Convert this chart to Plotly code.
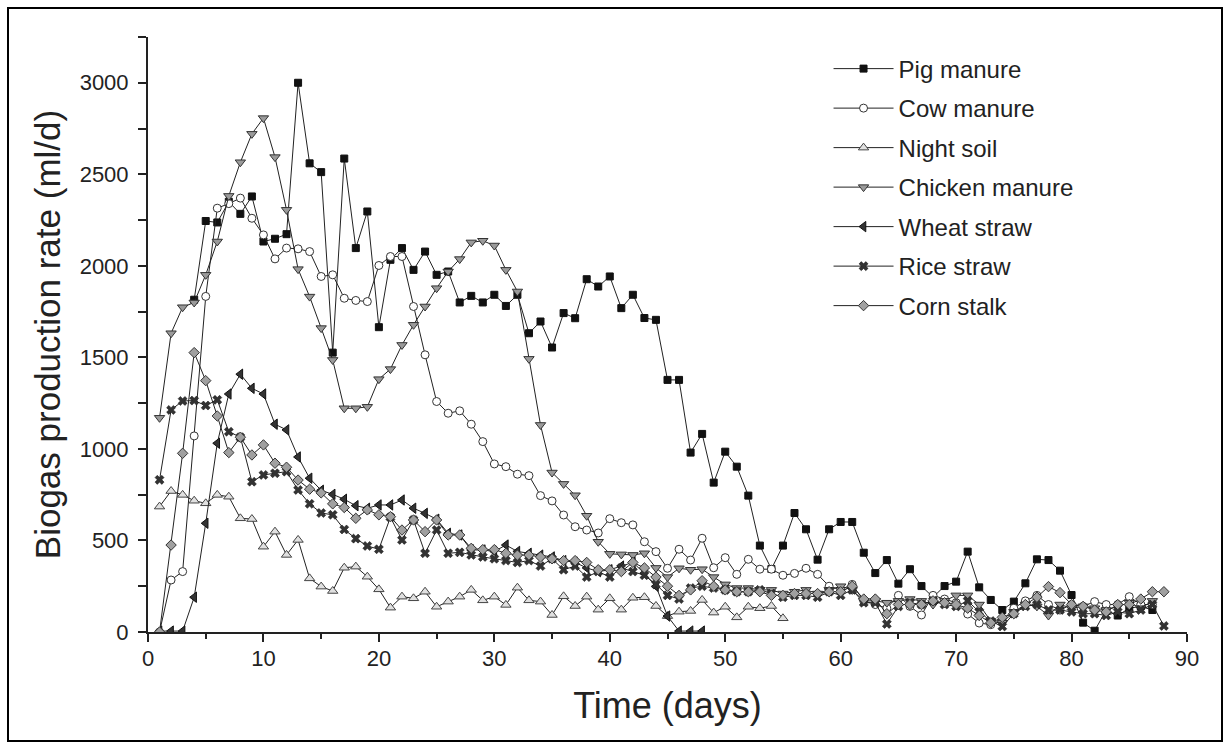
import plotly.graph_objects as go

pig_days = list(range(4, 88))
pig = [1815, 2245, 2237, 2350, 2284, 2379, 2133, 2148, 2173, 3000,
       2560, 2512, 1526, 2586, 2097, 2297, 1665, 2033, 2097, 1978,
       2078, 1951, 1969, 1800, 1836, 1800, 1842, 1781, 1842, 1632,
       1696, 1554, 1742, 1714, 1927, 1887, 1942, 1769, 1842, 1715,
       1705, 1377, 1377, 980, 1082, 816, 985, 903, 745, 472,
       344, 472, 650, 561, 395, 561, 601, 601, 433, 322,
       393, 264, 343, 251, 190, 251, 275, 439, 244, 175,
       120, 166, 266, 397, 393, 335, 202, 51, 7, 120,
       90, 130, 140, 120]

cow_days = list(range(1, 88))
cow = [0, 284, 330, 1071, 1833, 2315, 2340, 2370, 2260, 2169,
       2038, 2097, 2093, 2078, 1942, 1951, 1823, 1811, 1805, 2002,
       2051, 2051, 1778, 1514, 1259, 1195, 1208, 1135, 1040, 918,
       903, 862, 854, 745, 716, 639, 575, 557, 541, 619,
       597, 585, 493, 439, 348, 452, 393, 512, 351, 406,
       315, 397, 343, 343, 310, 320, 348, 315, 250, 230,
       260, 170, 150, 130, 200, 140, 93, 200, 180, 160,
       98, 49, 40, 60, 130, 170, 200, 150, 120, 150,
       140, 166, 150, 150, 193, 150, 150]

night_days = list(range(1, 56))
night = [685, 770, 749, 717, 703, 749, 739, 621, 617, 466,
         548, 421, 503, 293, 248, 224, 351, 357, 302, 233,
         133, 193, 184, 220, 138, 166, 193, 230, 173, 193,
         148, 242, 173, 166, 93, 195, 142, 193, 122, 184,
         122, 187, 190, 142, 87, 111, 115, 175, 106, 138,
         80, 138, 130, 142, 75]

chicken_days = list(range(1, 88))
chicken = [1170, 1632, 1774, 1800, 1951, 2133, 2382, 2566, 2721, 2807,
           2594, 2306, 1982, 1832, 1660, 1486, 1222, 1222, 1230, 1381,
           1436, 1568, 1678, 1778, 1878, 1969, 2037, 2128, 2137, 2111,
           1978, 1860, 1492, 1131, 871, 809, 747, 635, 493, 427,
           424, 421, 430, 350, 300, 348, 340, 343, 300, 260,
           240, 240, 230, 230, 210, 220, 230, 210, 230, 250,
           230, 170, 170, 160, 170, 180, 170, 150, 170, 200,
           200, 150, 60, 50, 110, 150, 140, 90, 150, 130,
           140, 130, 120, 140, 160, 130, 170]

wheat_days = list(range(1, 49))
wheat = [5, 5, 5, 190, 594, 1031, 1300, 1408, 1331, 1300,
         1135, 1104, 956, 840, 774, 752, 725, 690, 676, 694,
         694, 721, 676, 648, 616, 539, 530, 448, 448, 440,
         475, 440, 430, 420, 410, 390, 380, 350, 330, 340,
         360, 380, 320, 250, 87, 5, 5, 5]

rice_days = list(range(1, 89))
rice = [831, 1213, 1262, 1264, 1237, 1268, 1094, 1064, 821, 858,
        867, 876, 776, 700, 650, 640, 560, 510, 470, 452,
        627, 503, 612, 430, 557, 430, 435, 421, 410, 400,
        390, 380, 390, 360, 400, 340, 360, 300, 330, 300,
        350, 330, 310, 260, 200, 180, 240, 250, 240, 230,
        220, 220, 230, 210, 190, 200, 200, 190, 220, 200,
        230, 160, 160, 44, 140, 160, 150, 170, 150, 140,
        170, 110, 60, 30, 100, 140, 150, 120, 120, 110,
        100, 100, 90, 110, 100, 120, 150, 33]

corn_days = list(range(1, 89))
corn = [0, 475, 976, 1526, 1373, 1180, 980, 1064, 967, 1022,
        922, 900, 830, 780, 760, 700, 680, 621, 667, 640,
        630, 557, 612, 548, 612, 530, 530, 457, 450, 450,
        430, 420, 420, 410, 400, 390, 390, 380, 340, 340,
        330, 380, 350, 300, 250, 200, 230, 280, 250, 230,
        220, 220, 220, 200, 200, 210, 210, 210, 220, 220,
        250, 180, 180, 100, 150, 150, 150, 170, 160, 150,
        130, 90, 50, 80, 100, 150, 190, 248, 215, 150,
        140, 120, 110, 150, 150, 180, 220, 220]

x_ticks = [0, 10, 20, 30, 40, 50, 60, 70, 80, 90]
y_ticks = [0, 500, 1000, 1500, 2000, 2500, 3000]

series = [
    ("Pig manure", pig_days, pig, dict(symbol="square", size=7, color="#111111", line=dict(color="#111111", width=1))),
    ("Cow manure", cow_days, cow, dict(symbol="circle", size=8, color="white", line=dict(color="#333333", width=1))),
    ("Night soil", night_days, night, dict(symbol="triangle-up", size=9, color="#e0e0e0", line=dict(color="#444444", width=1))),
    ("Chicken manure", chicken_days, chicken, dict(symbol="triangle-down", size=9, color="#9a9a9a", line=dict(color="#333333", width=1))),
    ("Wheat straw", wheat_days, wheat, dict(symbol="triangle-left", size=9, color="#333333", line=dict(color="#111111", width=1))),
    ("Rice straw", rice_days, rice, dict(symbol="x", size=8, color="#333333", line=dict(color="#111111", width=0.5))),
    ("Corn stalk", corn_days, corn, dict(symbol="diamond", size=8, color="#a0a0a0", line=dict(color="#333333", width=1))),
]

fig = go.Figure()
for i, (name, xs, ys, mk) in enumerate(series):
    fig.add_trace(go.Scatter(
        x=xs, y=ys, name=name, mode="lines+markers",
        line=dict(color="#222222", width=1),
        marker=mk, legendgroup=f"g{i}",
    ))

fig.update_layout(
    width=1231, height=749,
    margin=dict(l=148, r=44, t=37, b=117),
    paper_bgcolor="white", plot_bgcolor="white",
    font=dict(family="Liberation Sans, Arial, sans-serif", color="#222222"),
    showlegend=True,
    legend=dict(x=0.655, y=0.984, xanchor="left", yanchor="top",
                font=dict(size=24), bgcolor="rgba(0,0,0,0)",
                tracegroupgap=5.3, itemwidth=60),
    xaxis=dict(range=[0, 90], tickvals=x_ticks,
               ticks="outside", ticklen=8, tickwidth=1.5, tickcolor="#222",
               showline=True, linecolor="#222", linewidth=2,
               showgrid=False, zeroline=False,
               tickfont=dict(size=22), ticklabelstandoff=-2,
               minor=dict(dtick=5, ticks="outside", ticklen=5, tickcolor="#222", tickwidth=1.5),
               title=dict(text="Time (days)", font=dict(size=36), standoff=22)),
    yaxis=dict(range=[0, 3250], tickvals=y_ticks,
               ticks="outside", ticklen=8, tickwidth=1.5, tickcolor="#222",
               showline=True, linecolor="#222", linewidth=2,
               showgrid=False, zeroline=False,
               tickfont=dict(size=22), ticklabelstandoff=5,
               minor=dict(dtick=250, ticks="outside", ticklen=8, tickcolor="#222", tickwidth=1.5),
               title=dict(text="Biogas production rate (ml/d)", font=dict(size=35), standoff=8)),
    shapes=[dict(type="rect", xref="paper", yref="paper",
                 x0=(8 - 148) / 1039, x1=(1222 - 148) / 1039,
                 y0=(632 - 741) / 595, y1=(632 - 8) / 595,
                 line=dict(color="black", width=2), fillcolor="rgba(0,0,0,0)", layer="below")],
)

fig.write_html("out.html")
